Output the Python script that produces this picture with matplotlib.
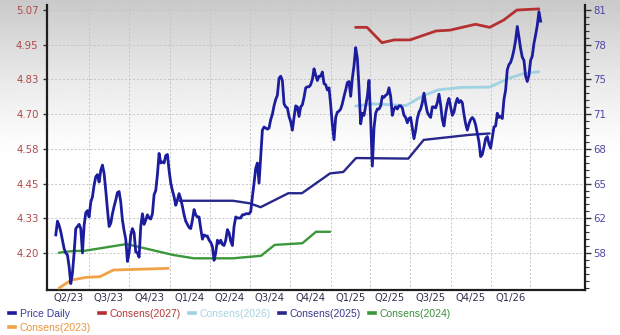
import numpy as np
import pandas as pd
import matplotlib
matplotlib.use('Agg')
import matplotlib.pyplot as plt
import matplotlib.dates as mdates
from matplotlib.lines import Line2D
from matplotlib.ticker import FixedLocator, NullFormatter

# ---------------- data ----------------
price_start = '2023-04-17'
price_end = '2026-04-24'
price = [60.0, 61.3, 60.9, 60.3, 59.5, 58.7, 58.3, 58.1, 57.0, 55.4, 56.4, 58.3, 60.6, 60.8, 61.0, 60.6, 58.3,
         60.9, 62.1, 62.3, 61.7, 63.1, 63.6, 64.7, 65.5, 65.7, 65.0, 66.1, 66.6, 65.8, 64.2, 62.4, 60.8, 61.1,
         62.0, 62.7, 63.3, 64.0, 64.1, 63.1, 61.4, 60.4, 59.6, 57.5, 58.3, 60.0, 60.6, 60.2, 58.4, 58.3, 57.9,
         60.8, 62.0, 61.0, 61.4, 61.9, 61.6,
         61.5, 62.0, 63.8, 64.2, 65.7, 67.7, 66.8, 66.9, 66.8, 67.5, 67.6, 66.1, 64.9, 64.2, 63.6, 62.8, 63.3,
         63.9, 63.4, 62.7, 61.9, 61.3, 61.0, 60.7, 60.6, 61.4, 62.4, 61.9, 61.7, 61.7, 60.6, 59.6, 60.0, 59.9,
         59.9, 59.5, 59.3, 58.9, 57.6, 58.3, 59.5, 59.2, 59.5, 59.1, 59.0, 59.5, 60.5, 60.2, 59.4, 59.0, 60.8,
         61.7, 61.6, 61.6, 61.6, 61.9, 61.9, 62.0, 62.0, 62.0,
         62.2, 63.6, 64.9, 66.3, 66.8, 64.9, 67.4, 69.9, 70.2, 70.1, 70.0, 70.1, 70.9, 71.4, 72.2, 72.8, 73.2,
         74.8, 75.0, 74.6, 72.4, 72.1, 72.0, 71.2, 70.7, 69.9, 71.1, 72.2, 72.1, 71.2, 72.1, 72.3, 73.0, 73.9,
         74.0, 74.0, 74.2, 74.7, 75.7, 75.1, 74.6, 75.0, 75.0, 75.4, 74.3, 74.2, 73.7, 73.9, 72.3, 70.4, 69.0,
         71.1, 71.6, 71.7, 71.9, 72.4, 73.1, 73.7, 74.4, 74.5,
         73.1, 74.8, 76.0, 77.7, 76.7, 73.9, 70.5, 71.5, 71.3, 72.2, 73.1, 74.6, 70.9, 66.5, 70.1, 71.5, 71.9,
         71.9, 72.2, 73.1, 73.0, 73.2, 73.3, 73.9, 73.1, 71.3, 71.9, 72.1, 71.9, 72.2, 72.2, 72.0, 71.3, 71.1,
         70.6, 71.0, 71.1, 70.1, 69.1, 69.9, 71.0, 71.6, 71.9, 72.5, 73.4, 72.4, 71.6, 71.3, 71.1, 72.1, 72.1,
         72.0, 72.5, 73.3, 72.3, 70.9, 70.3, 71.5, 72.4, 72.9, 72.1, 71.3, 71.6, 72.4, 72.9, 72.5, 72.7, 72.5,
         71.4, 70.5, 69.9, 70.5,
         70.9, 71.1, 70.9, 70.4, 69.6, 68.8, 67.4, 67.6, 68.3, 69.1, 69.3, 68.6, 68.2, 69.2, 70.2, 70.3, 71.5,
         71.1, 71.2, 71.0, 72.8, 73.7, 75.6, 76.1, 76.3, 76.8, 77.5, 78.4, 79.7, 78.7, 77.6, 76.8, 76.5, 75.0,
         74.5, 75.1, 76.5, 76.9, 78.1, 78.9, 79.8, 81.1, 80.2]

c2027_dates = ['2025-02-27', '2025-03-25', '2025-04-28', '2025-05-26', '2025-07-01', '2025-08-29',
               '2025-09-30', '2025-11-27', '2025-12-29', '2026-01-30', '2026-03-01', '2026-04-20']
c2027 = [5.008, 5.008, 4.953, 4.963, 4.963, 4.995, 4.998, 5.019, 5.008, 5.034, 5.070, 5.074]

c2026_dates = ['2025-02-27', '2025-04-06', '2025-06-22', '2025-07-29', '2025-09-03', '2025-10-26',
               '2025-12-29', '2026-02-13', '2026-03-18', '2026-04-20']
c2026 = [4.726, 4.734, 4.728, 4.762, 4.784, 4.793, 4.794, 4.827, 4.843, 4.849]

c2025_dates = ['2024-01-24', '2024-05-24', '2024-07-01', '2024-07-26', '2024-09-27', '2024-10-28',
               '2024-12-31', '2025-01-30', '2025-02-28', '2025-06-27', '2025-08-01', '2025-11-13', '2025-12-29']
c2025 = [4.387, 4.387, 4.378, 4.364, 4.414, 4.414, 4.485, 4.490, 4.540, 4.538, 4.605, 4.623, 4.628]

c2024_dates = ['2023-04-24', '2023-05-25', '2023-06-22', '2023-09-25', '2023-11-13', '2024-01-09',
               '2024-02-25', '2024-05-24', '2024-07-27', '2024-08-27', '2024-10-29', '2024-11-29', '2024-12-31']
c2024 = [4.201, 4.207, 4.208, 4.232, 4.214, 4.193, 4.181, 4.181, 4.190, 4.229, 4.235, 4.276, 4.276]

c2023_dates = ['2023-04-24', '2023-05-22', '2023-06-26', '2023-07-26', '2023-08-26', '2023-12-29']
c2023 = [4.074, 4.103, 4.113, 4.115, 4.139, 4.145]

eps_tick_labels = ['4.20', '4.33', '4.45', '4.58', '4.70', '4.83', '4.95', '5.07']
price_tick_labels = ['58', '62', '65', '68', '71', '75', '78', '81']
quarter_labels = ['Q2/23', 'Q3/23', 'Q4/23', 'Q1/24', 'Q2/24', 'Q3/24', 'Q4/24',
                  'Q1/25', 'Q2/25', 'Q3/25', 'Q4/25', 'Q1/26']

# ---------------- styles ----------------
col_price = '#1c1c9e'
col_2027 = '#b53131'
col_2026 = '#9fd2e2'
col_2025 = '#28288c'
col_2024 = '#3a983a'
col_2023 = '#f0a246'

W, H = 620, 335
fig = plt.figure(figsize=(W / 100, H / 100), dpi=100)
fig.patch.set_facecolor('white')

# background vertical gradient
bg = fig.add_axes([0, 0, 1, 1], zorder=-5)
yy = np.linspace(0, H, 400)
g = 1 - 0.21 * np.clip(1 - yy / 160.0, 0, 1) ** 1.3
bg.imshow(g.reshape(-1, 1), aspect='auto', cmap='gray', vmin=0, vmax=1,
          extent=[0, 1, 0, 1], interpolation='bilinear')
bg.axis('off')

L, R, B, T = 47, 585, 290, 5
ax = fig.add_axes([L / W, (H - B) / H, (R - L) / W, (B - T) / H])
ax.patch.set_alpha(0)
ax2 = ax.twinx()
ax2.patch.set_alpha(0)

to_dt = lambda s: pd.to_datetime(s)

# consensus lines (left axis)
ax.plot(to_dt(c2023_dates), c2023, color=col_2023, lw=2.0, solid_capstyle='round', zorder=3)
ax.plot(to_dt(c2024_dates), c2024, color=col_2024, lw=1.7, solid_capstyle='round', zorder=3)
ax.plot(to_dt(c2025_dates), c2025, color=col_2025, lw=1.7, solid_capstyle='round', zorder=3)
ax.plot(to_dt(c2026_dates), c2026, color=col_2026, lw=2.0, solid_capstyle='round', zorder=3)
ax.plot(to_dt(c2027_dates), c2027, color=col_2027, lw=2.0, solid_capstyle='round', zorder=3)

# price (right axis)
pdates = pd.date_range(price_start, price_end, periods=len(price))
ax2.plot(pdates, price, color=col_price, lw=2.0, zorder=4)

# y scales
eps_ticks = np.linspace(float(eps_tick_labels[0]), float(eps_tick_labels[-1]), len(eps_tick_labels))
ax.set_ylim(4.0675, 5.088)
ax.set_yticks(eps_ticks)
ax.set_yticklabels(eps_tick_labels)

p_lo, p_hi = 58.29, 81.255
price_ticks = np.linspace(p_lo, p_hi, len(price_tick_labels))
ax2.set_ylim(54.795, 81.73)
ax2.set_yticks(price_ticks)
ax2.set_yticklabels(price_tick_labels)
step = (p_hi - p_lo) / (len(price_tick_labels) - 1) / 5
minor = np.arange(p_lo - 5 * step, p_hi + 5 * step, step)
minor = minor[(minor > 54.8) & (minor < 81.73)]
ax2.yaxis.set_minor_locator(FixedLocator(minor))

# x scale
ax.set_xlim(pd.Timestamp('2023-03-28'), pd.Timestamp('2026-08-03'))
qstarts = pd.date_range('2023-07-01', '2026-04-01', freq='QS')
qstart_all = pd.date_range('2023-04-01', '2026-04-01', freq='QS')
qmid = [s + (e - s) / 2 for s, e in zip(qstart_all[:-1], qstart_all[1:])] + \
       [qstart_all[-1] + pd.Timedelta(days=45)]
qmid = qmid[:len(quarter_labels)]
ax.xaxis.set_major_locator(FixedLocator(mdates.date2num(qstarts)))
ax.xaxis.set_major_formatter(NullFormatter())
ax.xaxis.set_minor_locator(FixedLocator(mdates.date2num(qmid)))
ax.set_xticklabels(quarter_labels, minor=True)

# grid
ax.grid(True, which='major', axis='both', color='#c4c4c4', lw=0.7, linestyle=(0, (2, 2)))
ax.set_axisbelow(True)

# spines
for s in ['top', 'right']:
    ax.spines[s].set_visible(False)
for s in ['top', 'left', 'bottom']:
    ax2.spines[s].set_visible(False)
ax.spines['left'].set_color('#1e1e1e')
ax.spines['left'].set_linewidth(1.6)
ax.spines['bottom'].set_color('#1e1e1e')
ax.spines['bottom'].set_linewidth(1.6)
ax2.spines['right'].set_color('#1e1e1e')
ax2.spines['right'].set_linewidth(1.6)

# ticks
ax.tick_params(axis='y', which='major', length=3, width=1, color='#333333',
               labelsize=7.3, labelcolor='#b04848', pad=3)
ax.tick_params(axis='x', which='both', length=0, labelsize=7.2, labelcolor='#30304e', pad=2.5)
ax2.tick_params(axis='y', which='major', length=4, width=1, color='#333333',
                labelsize=7.3, labelcolor='#4848a6', pad=2)
ax2.tick_params(axis='y', which='minor', length=3, width=0.8, color='#333333')
for lab in ax.get_yticklabels() + ax2.get_yticklabels() + ax.get_xticklabels(minor=True):
    lab.set_family('DejaVu Sans')

# legend
entries = [('Price Daily', col_price, '#3a3a9c'),
           ('Consens(2023)', col_2023, '#e8953a'),
           ('Consens(2027)', col_2027, '#b53838'),
           ('Consens(2026)', col_2026, '#a6d3e3'),
           ('Consens(2025)', col_2025, '#3a3a8c'),
           ('Consens(2024)', col_2024, '#3d8f3d')]
handles = [Line2D([], [], color=c, lw=2.6) for _, c, _ in entries]
leg = fig.legend(handles, [e[0] for e in entries], loc='upper left',
                 bbox_to_anchor=(9 / W, 1 - 309 / H), ncol=5, frameon=False,
                 prop={'family': 'Liberation Sans', 'size': 7.5},
                 handlelength=0.6, handletextpad=0.45, columnspacing=0.75,
                 labelspacing=0.35, borderpad=0, borderaxespad=0)
for t, (_, _, tc) in zip(leg.get_texts(), entries):
    t.set_color(tc)

fig.savefig('out.png', dpi=100)
